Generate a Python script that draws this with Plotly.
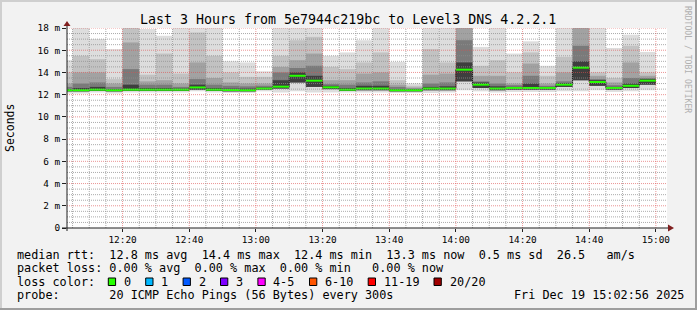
import plotly.graph_objects as go
from datetime import datetime, timedelta

# ---------------- data ----------------
DAY = "2025-12-19"
TITLE = "Last 3 Hours from 5e7944c219bc to Level3 DNS 4.2.2.1"

# end time of each 5-minute step
step_end = ["12:05", "12:10", "12:15", "12:20", "12:25", "12:30", "12:35", "12:40", "12:45",
            "12:50", "12:55", "13:00", "13:05", "13:10", "13:15", "13:20", "13:25", "13:30",
            "13:35", "13:40", "13:45", "13:50", "13:55", "14:00", "14:05", "14:10", "14:15",
            "14:20", "14:25", "14:30", "14:35", "14:40", "14:45", "14:50", "14:55", "15:00"]

# median rtt (ms)
median = [12.40, 12.40, 12.45, 12.40, 12.45, 12.45, 12.45, 12.45, 12.65, 12.45, 12.42, 12.40,
          12.55, 12.72, 13.70, 13.26, 12.66, 12.45, 12.55, 12.55, 12.40, 12.40, 12.55, 12.55,
          14.25, 12.90, 12.55, 12.60, 12.60, 12.60, 12.90, 14.43, 13.14, 12.60, 12.80, 13.26]

# smoke band upper edges (ms), outer (lightest) to inner (darkest)
top1 = [15.1, 18.0, 17.0, 16.1, 18.0, 17.9, 17.3, 18.0, 18.0, 18.0, 15.0, 14.9,
        14.1, 18.0, 18.0, 18.0, 15.5, 15.8, 16.9, 18.0, 14.95, 13.0, 18.0, 18.0,
        18.0, 16.3, 18.0, 15.7, 16.8, 14.6, 18.0, 18.0, 18.0, 16.2, 17.4, 15.85]
top2 = [14.0, 15.5, 15.2, 13.4, 18.0, 13.8, 15.7, 13.9, 17.6, 15.5, 14.0, 13.6,
        13.6, 15.5, 16.9, 17.2, 14.5, 14.3, 14.9, 15.8, 13.3, 12.8, 16.1, 14.9,
        18.0, 14.6, 15.1, 14.0, 15.8, 13.7, 15.4, 18.0, 14.0, 13.5, 16.4, 14.0]
top3 = [13.0, 14.0, 14.0, 13.0, 16.7, 13.2, 13.3, 13.0, 14.9, 13.5, 13.1, 13.0,
        13.0, 14.5, 15.1, 15.7, 13.3, 13.3, 13.9, 14.0, 12.9, 12.65, 13.8, 13.9,
        18.0, 13.7, 13.7, 13.0, 14.8, 13.0, 14.0, 18.0, 13.7, 13.1, 14.9, 13.7]
top4 = [12.7, 13.0, 13.1, 12.7, 14.3, 12.9, 12.9, 12.7, 13.4, 12.9, 12.8, 12.75,
        12.8, 14.0, 14.4, 14.6, 12.95, 12.9, 13.1, 13.2, 12.7, 12.55, 13.0, 13.1,
        16.9, 13.2, 13.0, 12.85, 13.7, 12.8, 13.2, 16.4, 13.4, 12.85, 13.5, 13.5]
top5 = [12.5, 12.6, 12.7, 12.5, 12.9, 12.6, 12.6, 12.55, 12.9, 12.6, 12.55, 12.55,
        12.65, 13.3, 14.0, 13.7, 12.8, 12.6, 12.8, 12.8, 12.5, 12.5, 12.7, 12.75,
        14.9, 13.1, 12.75, 12.7, 13.0, 12.7, 13.05, 15.0, 13.3, 12.7, 13.0, 13.4]
# lower edges: inner bands and outer band
bot5 = [12.3, 12.3, 12.35, 12.3, 12.35, 12.35, 12.35, 12.35, 12.45, 12.35, 12.3, 12.3,
        12.45, 12.55, 13.1, 12.7, 12.5, 12.35, 12.4, 12.4, 12.3, 12.3, 12.4, 12.4,
        13.2, 12.6, 12.4, 12.45, 12.45, 12.45, 12.7, 13.3, 12.8, 12.45, 12.6, 12.9]
bot1 = [12.1, 12.1, 12.2, 12.1, 12.2, 12.2, 12.2, 12.2, 12.3, 12.2, 12.15, 12.15,
        12.3, 12.2, 12.3, 12.2, 12.2, 12.2, 12.2, 12.2, 12.15, 12.15, 12.15, 12.2,
        12.4, 12.3, 12.2, 12.25, 12.25, 12.25, 12.3, 12.3, 12.4, 12.25, 12.3, 12.4]

y_ticks = [0, 2, 4, 6, 8, 10, 12, 14, 16, 18]
y_ticktext = ["0", "2 m", "4 m", "6 m", "8 m", "10 m", "12 m", "14 m", "16 m", "18 m"]
x_ticktext = ["12:20", "12:40", "13:00", "13:20", "13:40", "14:00", "14:20", "14:40", "15:00"]

legend_lines = [
    "median rtt:  12.8 ms avg  14.4 ms max  12.4 ms min  13.3 ms now  0.5 ms sd  26.5   am/s",
    "packet loss: 0.00 % avg  0.00 % max  0.00 % min   0.00 % now",
    "loss color:",
    "probe:       20 ICMP Echo Pings (56 Bytes) every 300s",
]
date_text = "Fri Dec 19 15:02:56 2025"
loss_labels = ["0", "1", "2", "3", "4-5", "6-10", "11-19", "20/20"]
loss_colors = ["#26ff00", "#00b8ff", "#0059ff", "#7e00ff", "#ff00ff", "#ff5500", "#ff0000", "#a10000"]

# ---------------- layout constants ----------------
W, H = 697, 310
L, R, T, B = 67, 30, 28, 82
PW, PH = W - L - R, H - T - B
MONO = "DejaVu Sans Mono"
BACK = "#f2f2f2"
GRID = "rgba(143,143,143,0.75)"
MGRID = "rgba(222,79,79,0.6)"
AXIS = "#1f1f1f"
ARROW = "#801f1f"


def px(x):
    return (x - L) / PW


def py(y):
    return (T + PH - y) / PH


def ts(hm):
    return datetime.strptime(f"{DAY} {hm}", "%Y-%m-%d %H:%M")


step = timedelta(minutes=5)
ends = [ts(t) for t in step_end]
starts = [e - step for e in ends]
centers = [e - step / 2 for e in ends]
x_range = [ts("12:03") + timedelta(seconds=20), ts("15:03") + timedelta(seconds=20)]

fig = go.Figure()

bands = [(bot1, top1, "#dddddd"), (bot5, top2, "#c2c2c2"), (bot5, top3, "#a2a2a2"),
         (bot5, top4, "#7a7a7a"), (bot5, top5, "#3e3e3e")]
for lo, hi, col in bands:
    fig.add_trace(go.Bar(x=centers, base=lo, y=[h - l for h, l in zip(hi, lo)],
                         width=step.total_seconds() * 1000,
                         marker=dict(color=col, line=dict(width=0)),
                         hoverinfo="skip", showlegend=False))

# median: dark step connector then loss-coloured segments
fig.add_trace(go.Scatter(x=starts + [ends[-1]], y=median + [median[-1]], mode="lines",
                         line=dict(color=AXIS, width=1, shape="hv"),
                         hoverinfo="skip", showlegend=False))
gx, gy = [], []
for s, e, m in zip(starts, ends, median):
    gx += [s, e, None]
    gy += [m, m, None]
fig.add_trace(go.Scatter(x=gx, y=gy, mode="lines", line=dict(color=loss_colors[0], width=2),
                         hoverinfo="skip", showlegend=False))

shapes = []
# grid (drawn above the smoke, as rrdtool does)
yv = 0.5
while yv <= 18.0001:
    major = abs(yv / 2 - round(yv / 2)) < 1e-6
    shapes.append(dict(type="line", xref="paper", yref="y", x0=0, x1=1, y0=yv, y1=yv,
                       line=dict(color=MGRID if major else GRID, width=1, dash="1px,1px"),
                       layer="above"))
    yv += 0.5
for e in ends:
    major = e.minute % 20 == 0
    shapes.append(dict(type="line", xref="x", yref="paper", x0=e, x1=e, y0=0, y1=1,
                       line=dict(color=MGRID if major else GRID, width=1, dash="1px,1px"),
                       layer="above"))

# axes with arrows
shapes.append(dict(type="line", xref="paper", yref="paper", x0=px(62), x1=px(668), y0=py(228), y1=py(228),
                   line=dict(color=AXIS, width=1), layer="above"))
shapes.append(dict(type="line", xref="paper", yref="paper", x0=px(67), x1=px(67), y0=py(231), y1=py(25),
                   line=dict(color=AXIS, width=1), layer="above"))
shapes.append(dict(type="path", xref="paper", yref="paper",
                   path=f"M {px(668)} {py(224.5)} L {px(668)} {py(231.5)} L {px(674)} {py(228)} Z",
                   fillcolor=ARROW, line=dict(width=0), layer="above"))
shapes.append(dict(type="path", xref="paper", yref="paper",
                   path=f"M {px(63.5)} {py(26)} L {px(70.5)} {py(26)} L {px(67)} {py(21)} Z",
                   fillcolor=ARROW, line=dict(width=0), layer="above"))

# frame shading
shapes.append(dict(type="rect", xref="paper", yref="paper", x0=px(0), x1=px(W), y0=py(0), y1=py(2),
                   fillcolor="#cfcfcf", line=dict(width=0), layer="above"))
shapes.append(dict(type="rect", xref="paper", yref="paper", x0=px(0), x1=px(2), y0=py(0), y1=py(H),
                   fillcolor="#cfcfcf", line=dict(width=0), layer="above"))
shapes.append(dict(type="rect", xref="paper", yref="paper", x0=px(0), x1=px(W), y0=py(H - 2), y1=py(H),
                   fillcolor="#9e9e9e", line=dict(width=0), layer="above"))
shapes.append(dict(type="rect", xref="paper", yref="paper", x0=px(W - 2), x1=px(W), y0=py(0), y1=py(H),
                   fillcolor="#9e9e9e", line=dict(width=0), layer="above"))

annotations = []
FS = 11.8
CW = 7.1


def nb(s):
    return s.replace(" ", "\u00a0")


annotations.append(dict(text=nb(TITLE), xref="paper", yref="paper", x=px(348), y=py(19),
                        xanchor="center", yanchor="middle", showarrow=False,
                        font=dict(family=MONO, size=13.3, color="#000")))
annotations.append(dict(text="Seconds", xref="paper", yref="paper", x=px(10), y=py(128),
                        xanchor="center", yanchor="middle", showarrow=False, textangle=-90,
                        font=dict(family=MONO, size=11.5, color="#000")))
annotations.append(dict(text=nb("RRDTOOL / TOBI OETIKER"), xref="paper", yref="paper", x=px(688), y=py(59),
                        xanchor="center", yanchor="middle", showarrow=False, textangle=90,
                        font=dict(family=MONO, size=8.1, color="#b0b0b0")))
line_y = [254.5, 268, 281.5, 295]
for txt, yy in zip(legend_lines, line_y):
    annotations.append(dict(text=nb(txt), xref="paper", yref="paper", x=px(14.5), y=py(yy),
                            xanchor="left", yanchor="middle", showarrow=False,
                            font=dict(family=MONO, size=FS, color="#000")))
annotations.append(dict(text=nb(date_text), xref="paper", yref="paper", x=px(512), y=py(line_y[3]),
                        xanchor="left", yanchor="middle", showarrow=False,
                        font=dict(family=MONO, size=FS, color="#000")))
bx = 108.3
for lab, col in zip(loss_labels, loss_colors):
    shapes.append(dict(type="rect", xref="paper", yref="paper", x0=px(bx), x1=px(bx + 7.3),
                       y0=py(278), y1=py(285.5), fillcolor=col, line=dict(color="#000", width=1),
                       layer="above"))
    annotations.append(dict(text=nb(lab), xref="paper", yref="paper", x=px(bx + 13.5), y=py(line_y[2]),
                            xanchor="left", yanchor="middle", showarrow=False,
                            font=dict(family=MONO, size=FS, color="#000")))
    bx += 30.3 + CW * len(lab)

x_tickvals = [ts(t) for t in x_ticktext]

fig.update_layout(
    width=W, height=H, margin=dict(l=L, r=R, t=T, b=B, pad=0),
    paper_bgcolor=BACK, plot_bgcolor="#ffffff",
    barmode="overlay", showlegend=False,
    shapes=shapes, annotations=annotations,
    xaxis=dict(type="date", range=x_range, tickvals=x_tickvals, ticktext=x_ticktext,
               showgrid=False, zeroline=False, showline=False,
               ticks="outside", ticklen=3, tickcolor=AXIS,
               tickfont=dict(family=MONO, size=9.4, color="#000")),
    yaxis=dict(range=[0, 18], tickvals=y_ticks, ticktext=y_ticktext,
               showgrid=False, zeroline=False, showline=False,
               ticks="outside", ticklen=4, tickcolor=AXIS,
               tickfont=dict(family=MONO, size=9.4, color="#000")),
)

fig.write_html("out.html")
